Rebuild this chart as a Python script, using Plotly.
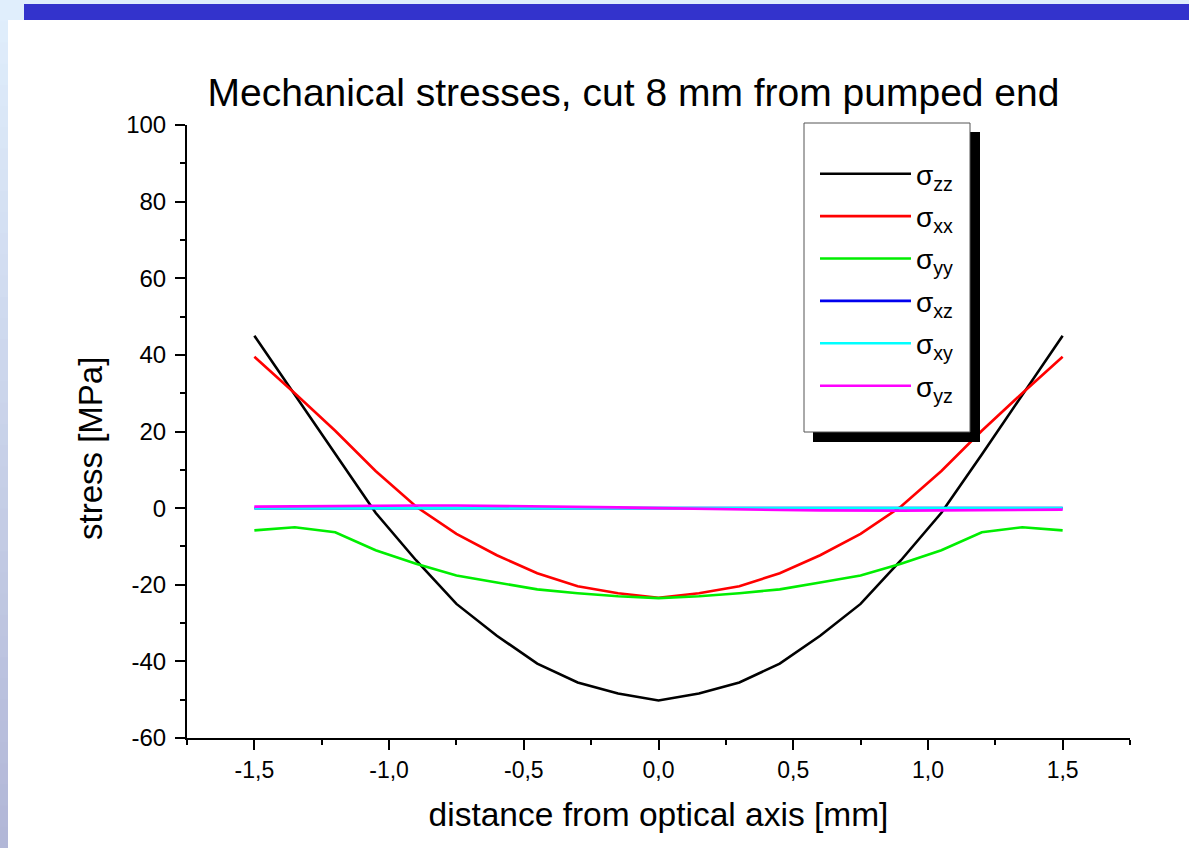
import plotly.graph_objects as go

# ---------------- data ----------------
x_mm = [-1.5, -1.35, -1.2, -1.05, -0.9, -0.75, -0.6, -0.45, -0.3, -0.15, 0.0,
        0.15, 0.3, 0.45, 0.6, 0.75, 0.9, 1.05, 1.2, 1.35, 1.5]

s_zz = [45.0, 29.5, 14.0, -1.2, -13.6, -25.0, -33.3, -40.6, -45.5, -48.4, -50.2,
        -48.4, -45.5, -40.6, -33.3, -25.0, -13.6, -1.2, 14.0, 29.5, 45.0]
s_xx = [39.5, 30.0, 20.2, 9.7, 0.4, -6.7, -12.3, -17.0, -20.4, -22.2, -23.4,
        -22.2, -20.4, -17.0, -12.3, -6.7, 0.4, 9.7, 20.2, 30.0, 39.5]
s_yy = [-5.8, -5.0, -6.3, -11.0, -14.5, -17.6, -19.4, -21.2, -22.2, -23.0, -23.5,
        -23.0, -22.2, -21.2, -19.4, -17.6, -14.5, -11.0, -6.3, -5.0, -5.8]
s_xz = [0.0, 0.0, 0.0, 0.0, 0.0, 0.0, 0.0, 0.0, 0.0, 0.0, 0.0,
        0.0, 0.0, 0.0, 0.0, 0.0, 0.0, 0.0, 0.0, 0.0, 0.0]
s_xy = [0.0, 0.0, 0.0, 0.0, 0.0, 0.0, 0.0, 0.0, 0.0, 0.0, 0.0,
        0.0, 0.0, 0.0, 0.0, 0.0, 0.0, 0.0, 0.0, 0.0, 0.0]
s_yz = [0.4, 0.5, 0.5, 0.6, 0.7, 0.7, 0.6, 0.5, 0.4, 0.2, 0.0,
        -0.2, -0.4, -0.5, -0.6, -0.7, -0.7, -0.6, -0.5, -0.5, -0.4]

series_names = ["σ<sub>zz</sub>", "σ<sub>xx</sub>", "σ<sub>yy</sub>",
                "σ<sub>xz</sub>", "σ<sub>xy</sub>", "σ<sub>yz</sub>"]
series_vals = [s_zz, s_xx, s_yy, s_xz, s_xy, s_yz]
series_colors = ["#000000", "#ff0000", "#00ee00", "#0000ee", "#00ffff", "#ff00ff"]

x_tickvals = [-1.5, -1.0, -0.5, 0.0, 0.5, 1.0, 1.5]
x_ticktext = ["-1,5", "-1,0", "-0,5", "0,0", "0,5", "1,0", "1,5"]
y_tickvals = [-60, -40, -20, 0, 20, 40, 60, 80, 100]
y_ticktext = ["-60", "-40", "-20", "0", "20", "40", "60", "80", "100"]

title_text = "Mechanical stresses, cut 8 mm from pumped end"
x_title = "distance from optical axis [mm]"
y_title = "stress [MPa]"

# ---------------- layout geometry ----------------
FW, FH = 1189, 848
L, T = 187, 125
PW, PH = 943, 613
R = FW - L - PW
B = FH - T - PH


def fx(px):
    return (px - L) / PW


def fy(py):
    return (FH - B - py) / PH


FONT = "Liberation Sans, Arial, sans-serif"

fig = go.Figure()
for name, vals, col in zip(series_names, series_vals, series_colors):
    fig.add_trace(go.Scatter(x=x_mm, y=vals, mode="lines", name=name,
                             legendgroup=name,
                             line=dict(color=col, width=2.6)))

shapes = []
# left gradient strip
N = 40
c0 = (224, 238, 252)
c1 = (178, 183, 215)
for i in range(N):
    t = i / (N - 1)
    c = tuple(int(round(c0[k] + (c1[k] - c0[k]) * t)) for k in range(3))
    y0 = FH * i / N
    y1 = FH * (i + 1) / N + 1
    shapes.append(dict(type="rect", xref="paper", yref="paper",
                       x0=fx(0), x1=fx(8), y0=fy(y1), y1=fy(y0),
                       line=dict(width=0), fillcolor="rgb(%d,%d,%d)" % c, layer="below"))
# light band at top
shapes.append(dict(type="rect", xref="paper", yref="paper",
                   x0=fx(7), x1=fx(FW), y0=fy(4), y1=fy(0),
                   line=dict(width=0), fillcolor="#e0eefc", layer="below"))
shapes.append(dict(type="rect", xref="paper", yref="paper",
                   x0=fx(7), x1=fx(24), y0=fy(20), y1=fy(3),
                   line=dict(width=0), fillcolor="#e0eefc", layer="below"))
# blue bar
shapes.append(dict(type="rect", xref="paper", yref="paper",
                   x0=fx(24), x1=fx(FW), y0=fy(20), y1=fy(4),
                   line=dict(width=0), fillcolor="#3333cc", layer="below"))
# legend shadow and box
shapes.append(dict(type="rect", xref="paper", yref="paper",
                   x0=fx(813), x1=fx(980), y0=fy(442), y1=fy(132),
                   line=dict(width=0), fillcolor="#000000", layer="above"))
shapes.append(dict(type="rect", xref="paper", yref="paper",
                   x0=fx(804), x1=fx(970), y0=fy(432), y1=fy(123),
                   line=dict(width=1, color="#555555"), fillcolor="#ffffff", layer="above"))

annotations = [
    dict(text=y_title, textangle=-90, xref="paper", yref="paper",
         x=fx(90), y=fy(449), xanchor="center", yanchor="middle",
         showarrow=False, font=dict(family=FONT, size=33, color="black")),
]

fig.update_layout(
    width=FW, height=FH,
    margin=dict(l=L, r=R, t=T, b=B, pad=0),
    paper_bgcolor="white", plot_bgcolor="white",
    font=dict(family=FONT, color="black"),
    title=dict(text=title_text, x=633.5 / FW, xanchor="center",
               y=1 - 92 / FH, yanchor="middle", yref="container",
               font=dict(family=FONT, size=39, color="black")),
    showlegend=True,
    legend=dict(x=fx(815), y=fy(149), xanchor="left", yanchor="top",
                bgcolor="rgba(0,0,0,0)", borderwidth=0,
                font=dict(family=FONT, size=28, color="black"),
                itemwidth=91, traceorder="grouped", tracegroupgap=3),
    shapes=shapes,
    annotations=annotations,
    xaxis=dict(range=[-1.75, 1.75], showgrid=False, zeroline=False,
               showline=True, linecolor="black", linewidth=2,
               ticks="outside", ticklen=10, tickwidth=2, tickcolor="black",
               tickvals=x_tickvals, ticktext=x_ticktext,
               tickfont=dict(family=FONT, size=23, color="black"),
               minor=dict(ticks="outside", ticklen=5, tickwidth=2, tickcolor="black",
                          dtick=0.25, tick0=0, showgrid=False),
               title=dict(text=x_title, standoff=21,
                          font=dict(family=FONT, size=33.5, color="black"))),
    yaxis=dict(range=[-60, 100], showgrid=False, zeroline=False,
               showline=True, linecolor="black", linewidth=2,
               ticks="outside", ticklen=10, tickwidth=2, tickcolor="black",
               tickvals=y_tickvals, ticktext=y_ticktext, ticklabelstandoff=4,
               tickfont=dict(family=FONT, size=24, color="black"),
               minor=dict(ticks="outside", ticklen=5, tickwidth=2, tickcolor="black",
                          dtick=10, tick0=0, showgrid=False)),
)

fig.write_html("out.html", config={"displayModeBar": False},
               post_script="document.body.style.margin='0px';document.body.style.overflow='hidden';")
